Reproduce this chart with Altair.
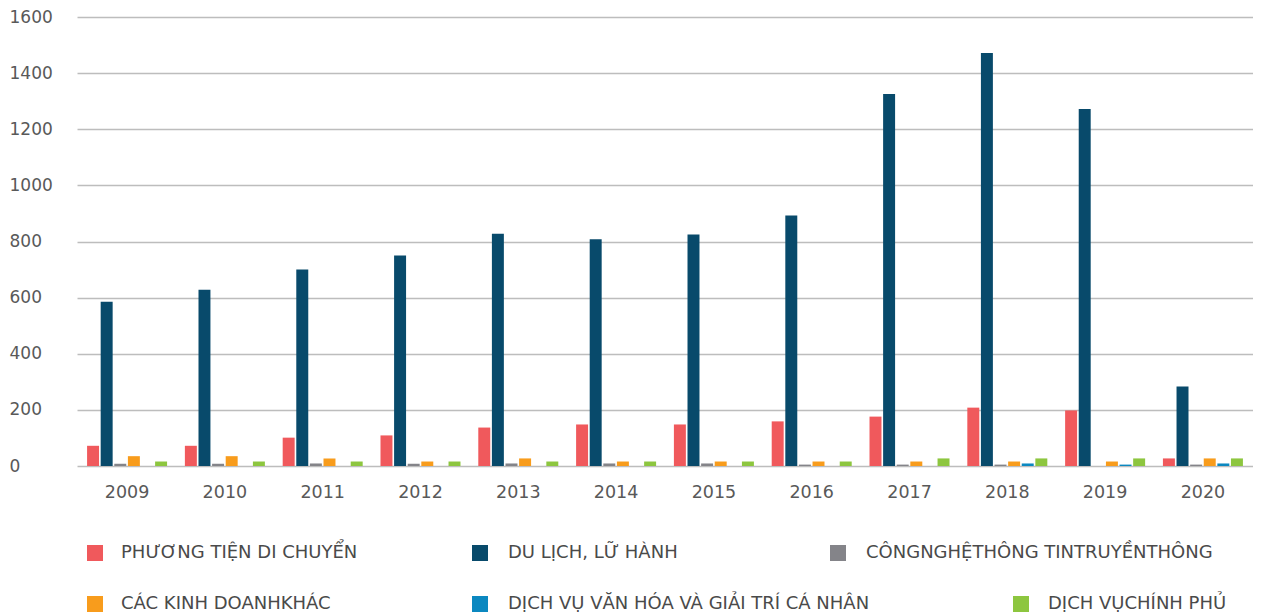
import altair as alt
import pandas as pd

years = ["2009", "2010", "2011", "2012", "2013", "2014",
         "2015", "2016", "2017", "2018", "2019", "2020"]

series = [
    "PHƯƠNG TIỆN DI CHUYỂN",
    "DU LỊCH, LỮ HÀNH",
    "CÔNGNGHỆTHÔNG TINTRUYỀNTHÔNG",
    "CÁC KINH DOANHKHÁC",
    "DỊCH VỤ VĂN HÓA VÀ GIẢI TRÍ CÁ NHÂN",
    "DỊCH VỤCHÍNH PHỦ",
]
colors = ["#F0595C", "#084A6B", "#848489", "#F89C1C", "#0B88C0", "#8DC63F"]

phuong_tien = [72, 72, 101, 109, 137, 148, 148, 159, 176, 208, 198, 27]
du_lich = [585, 628, 700, 750, 828, 808, 825, 893, 1326, 1472, 1272, 283]
cong_nghe = [8, 8, 9, 8, 9, 9, 9, 5, 5, 5, 0, 5]
kinh_doanh_khac = [35, 35, 27, 16, 27, 16, 16, 16, 16, 16, 16, 27]
van_hoa = [0, 0, 0, 0, 0, 0, 0, 0, 0, 9, 5, 9]
chinh_phu = [16, 16, 16, 16, 16, 16, 16, 16, 27, 27, 27, 27]

y_ticks = [0, 200, 400, 600, 800, 1000, 1200, 1400, 1600]

values_by_series = [phuong_tien, du_lich, cong_nghe, kinh_doanh_khac, van_hoa, chinh_phu]
rows = []
for name, vals in zip(series, values_by_series):
    for yr, v in zip(years, vals):
        rows.append({"year": yr, "series": name, "value": v})
df = pd.DataFrame(rows)

FONT = "DejaVu Sans"
color_scale = alt.Scale(domain=series, range=colors)

bars = alt.Chart(df).mark_bar().encode(
    x=alt.X(
        "year:N", sort=years,
        scale=alt.Scale(paddingInner=0.182, paddingOuter=0.103),
        axis=alt.Axis(title=None, labelAngle=0, domain=False, ticks=False,
                      labelPadding=17, labelFontSize=17.5, labelColor="#595959",
                      labelFont=FONT, grid=False),
    ),
    xOffset=alt.XOffset("series:N", sort=series,
                        scale=alt.Scale(paddingInner=0.12, paddingOuter=0)),
    y=alt.Y(
        "value:Q",
        scale=alt.Scale(domain=[0, 1600], nice=False),
        axis=alt.Axis(title=None, values=y_ticks, format="d", labelAlign="left",
                      labelPadding=68, ticks=False, tickSize=0, domain=False,
                      gridColor="#BDBDBD", gridWidth=1.5, labelFontSize=17,
                      labelColor="#595959", labelFont=FONT),
    ),
    color=alt.Color("series:N", sort=series, scale=color_scale, legend=None),
)

legend_df = pd.DataFrame({"series": series})
# legend layout (pixels relative to the plot origin)
sq_x = [18, 403, 761, 18, 403, 944]
tx_x = [44, 431, 789, 44, 431, 971]
row_y = [536, 536, 536, 587, 587, 587]

layers = [bars]
for i, name in enumerate(series):
    base = alt.Chart(legend_df).transform_filter(alt.datum.series == name)
    layers.append(
        base.mark_square(size=256, opacity=1).encode(
            x=alt.value(sq_x[i]), y=alt.value(row_y[i]),
            color=alt.Color("series:N", sort=series, scale=color_scale, legend=None),
        )
    )
    layers.append(
        base.mark_text(align="left", baseline="middle", fontSize=18, font=FONT,
                       color="#4A4A4A").encode(
            x=alt.value(tx_x[i]), y=alt.value(row_y[i]), text="series:N",
        )
    )

chart = alt.layer(*layers).properties(
    width=1176, height=449,
    padding={"left": 1, "top": 0, "right": 0, "bottom": 0},
).configure_view(stroke=None)

chart.save("out.html", embed_options={"renderer": "svg", "actions": False})
